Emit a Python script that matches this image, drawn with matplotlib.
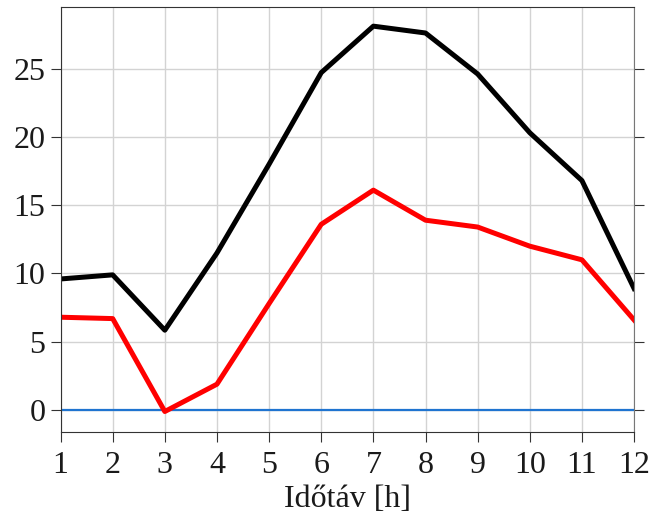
import matplotlib
matplotlib.use('Agg')
import matplotlib.pyplot as plt

plt.rcParams['font.family'] = ['Liberation Serif', 'DejaVu Serif']

hours = [1, 2, 3, 4, 5, 6, 7, 8, 9, 10, 11, 12]
black_vals = [9.6, 9.9, 5.85, 11.5, 18.0, 24.7, 28.1, 27.6, 24.6, 20.3, 16.8, 8.9]
red_vals = [6.8, 6.7, -0.1, 1.9, 7.8, 13.6, 16.1, 13.9, 13.4, 12.0, 11.0, 6.6]
zero_vals = [0] * 12

fig = plt.figure(figsize=(6.51, 5.17), dpi=100)
ax = fig.add_axes([0.093, 0.1644, 0.881, 0.822])

ax.grid(True, color='#d3d3d3', linewidth=1)
ax.set_axisbelow(True)

ax.plot(hours, zero_vals, color='#1f74d0', linewidth=1.6)
ax.plot(hours, red_vals, color='#ff0000', linewidth=3.6)
ax.plot(hours, black_vals, color='#000000', linewidth=3.6)

ax.set_xlim(1, 12)
ax.set_ylim(-1.6, 29.5)
ax.set_xticks(hours)
ax.set_yticks([0, 5, 10, 15, 20, 25])
ax.tick_params(labelsize=23, length=7, color='#333333', labelcolor='#1a1a1a')
ax.tick_params(axis='x', pad=7)
ax.tick_params(axis='y', pad=4)
ax.tick_params(axis='y', which='major', right=True)
ax.set_xlabel('Időtáv [h]', fontsize=23, labelpad=3, color='#1a1a1a')

for side in ['left', 'bottom', 'top']:
    ax.spines[side].set_color('#333333')
ax.spines['right'].set_color('#777777')

fig.savefig('out.png', dpi=100)
